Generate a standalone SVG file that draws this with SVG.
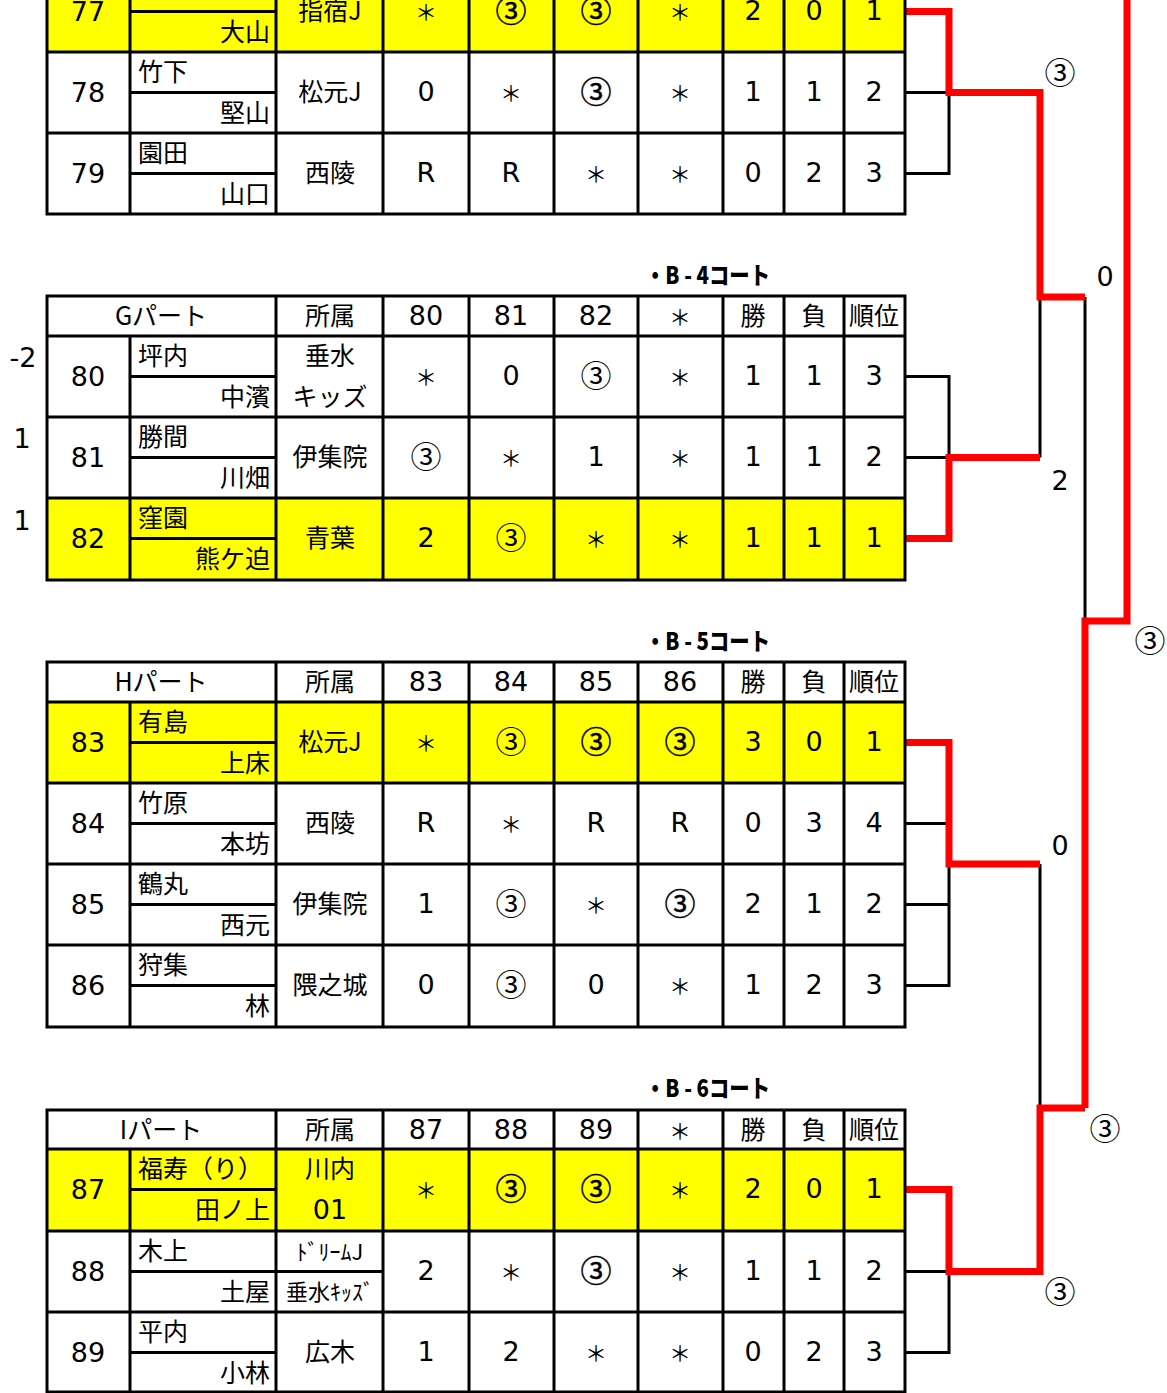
<svg xmlns="http://www.w3.org/2000/svg" width="1167" height="1393" viewBox="0 0 1167 1393">
<style>
text{font-family:"Noto Sans CJK JP","Noto Sans",sans-serif;font-size:25px;fill:#000}
.n{font-family:"DejaVu Sans","Noto Sans CJK JP",sans-serif;font-size:27px}
.m{text-anchor:middle}
.r{text-anchor:end}
.c{font-size:31px}
.a{font-size:22px}
.b{stroke:#000;stroke-width:0.5px}
.s{font-size:22px}
.yl{fill:#ffff00}
.g{stroke:#000;stroke-width:3;fill:none}
.br{stroke:#000;stroke-width:3;fill:none}
.rd{stroke:#ff0000;stroke-width:7;fill:none;stroke-linejoin:miter}
.ct{font-weight:900;font-size:24px}
</style>
<rect width="1167" height="1393" fill="#fff"/>

<g id="connectors">
<path class="br" d="M905,92.5H949M905,173.5H949V92.5"/>
<path class="br" d="M905,376.5H949V457.5M905,457.5H949M1040,297V457.5"/>
<path class="br" d="M1085,297V621"/>
<path class="br" d="M905,823.5H949M905,904.5H949M905,985.5H949V864M1040,864V1108"/>
<path class="br" d="M905,1271.5H949M905,1352.5H949V1271.5"/>
<path class="rd" d="M905,11.5H949V92.5H1040V297H1085"/>
<path class="rd" d="M905,538.5H949V457.5H1040"/>
<path class="rd" d="M1085,1108V621H1127V0"/>
<path class="rd" d="M905,742.5H949V864H1040"/>
<path class="rd" d="M905,1189.5H949V1271.5H1040V1108H1085"/>
<text class="m c" x="1060" y="84">③</text>
<text class="n m" x="1105" y="286">0</text>
<text class="n m" x="1060" y="490">2</text>
<text class="m c" x="1150" y="652">③</text>
<text class="n m" x="1060" y="855">0</text>
<text class="m c" x="1105" y="1140">③</text>
<text class="m c" x="1060" y="1303">③</text>
</g>

<g id="tableF">
<rect class="yl" x="47" y="-29" width="858" height="81"/>
<path class="g" d="M47,-5V214H905V-5M130,-5V214M276,-5V214M383,-5V214M469,-5V214M554,-5V214M638,-5V214M723,-5V214M784,-5V214M844,-5V214M47,52H905M47,133H905M130,11.5H276M130,92.5H276M130,173.5H276"/>
<text class="n m" x="88" y="21">77</text>
<text class="r" x="270" y="41">大山</text>
<text class="m" x="330" y="20">指宿J</text>
<text class="m a" x="426" y="20">＊</text>
<text class="m c b" x="511" y="22">③</text>
<text class="m c b" x="596" y="22">③</text>
<text class="m a" x="680" y="20">＊</text>
<text class="n m" x="753" y="20">2</text>
<text class="n m" x="814" y="20">0</text>
<text class="n m" x="874" y="20">1</text>

<text class="n m" x="88" y="102">78</text>
<text x="138" y="81">竹下</text>
<text class="r" x="270" y="122">堅山</text>
<text class="m" x="330" y="101">松元J</text>
<text class="n m" x="426" y="101">0</text>
<text class="m a" x="511" y="101">＊</text>
<text class="m c b" x="596" y="103">③</text>
<text class="m a" x="680" y="101">＊</text>
<text class="n m" x="753" y="101">1</text>
<text class="n m" x="814" y="101">1</text>
<text class="n m" x="874" y="101">2</text>

<text class="n m" x="88" y="183">79</text>
<text x="138" y="162">園田</text>
<text class="r" x="270" y="203">山口</text>
<text class="m" x="330" y="182">西陵</text>
<text class="n m" x="426" y="182">R</text>
<text class="n m" x="511" y="182">R</text>
<text class="m a" x="596" y="182">＊</text>
<text class="m a" x="680" y="182">＊</text>
<text class="n m" x="753" y="182">0</text>
<text class="n m" x="814" y="182">2</text>
<text class="n m" x="874" y="182">3</text>
</g>

<g id="courtB4">
<text class="ct" x="645" y="284" textLength="125" lengthAdjust="spacingAndGlyphs">・B - 4コート</text>
</g>

<g id="tableG">
<rect class="yl" x="47" y="498" width="858" height="82"/>
<path class="g" d="M47,296H905V580H47ZM47,336H905M47,417H905M47,498H905M130,336V580M276,296V580M383,296V580M469,296V580M554,296V580M638,296V580M723,296V580M784,296V580M844,296V580M130,376.5H276M130,457.5H276M130,538.5H276"/>
<text class="m" x="161" y="325">Gパート</text>
<text class="m" x="330" y="325">所属</text>
<text class="n m" x="426" y="325">80</text>
<text class="n m" x="511" y="325">81</text>
<text class="n m" x="596" y="325">82</text>
<text class="m a" x="680" y="325">＊</text>
<text class="m" x="753" y="325">勝</text>
<text class="m" x="814" y="325">負</text>
<text class="m" x="874" y="325">順位</text>

<text class="n m" x="23" y="367">-2</text>
<text class="n m" x="22" y="448">1</text>
<text class="n m" x="22" y="530">1</text>

<text class="n m" x="88" y="386">80</text>
<text x="138" y="365">坪内</text>
<text class="r" x="270" y="406">中濱</text>
<text class="m" x="330" y="365">垂水</text>
<text class="m" x="330" y="406">キッズ</text>
<text class="m a" x="426" y="385">＊</text>
<text class="n m" x="511" y="385">0</text>
<text class="m c" x="596" y="387">③</text>
<text class="m a" x="680" y="385">＊</text>
<text class="n m" x="753" y="385">1</text>
<text class="n m" x="814" y="385">1</text>
<text class="n m" x="874" y="385">3</text>

<text class="n m" x="88" y="467">81</text>
<text x="138" y="446">勝間</text>
<text class="r" x="270" y="487">川畑</text>
<text class="m" x="330" y="466">伊集院</text>
<text class="m c" x="426" y="468">③</text>
<text class="m a" x="511" y="466">＊</text>
<text class="n m" x="596" y="466">1</text>
<text class="m a" x="680" y="466">＊</text>
<text class="n m" x="753" y="466">1</text>
<text class="n m" x="814" y="466">1</text>
<text class="n m" x="874" y="466">2</text>

<text class="n m" x="88" y="548">82</text>
<text x="138" y="527">窪園</text>
<text class="r" x="270" y="568">熊ケ迫</text>
<text class="m" x="330" y="547">青葉</text>
<text class="n m" x="426" y="547">2</text>
<text class="m c" x="511" y="549">③</text>
<text class="m a" x="596" y="547">＊</text>
<text class="m a" x="680" y="547">＊</text>
<text class="n m" x="753" y="547">1</text>
<text class="n m" x="814" y="547">1</text>
<text class="n m" x="874" y="547">1</text>
</g>

<g id="courtB5">
<text class="ct" x="645" y="650" textLength="125" lengthAdjust="spacingAndGlyphs">・B - 5コート</text>
</g>

<g id="tableH">
<rect class="yl" x="47" y="702" width="858" height="81"/>
<path class="g" d="M47,662H905V1027H47ZM47,702H905M47,783H905M47,864H905M47,945H905M130,702V1027M276,662V1027M383,662V1027M469,662V1027M554,662V1027M638,662V1027M723,662V1027M784,662V1027M844,662V1027M130,742.5H276M130,823.5H276M130,904.5H276M130,985.5H276"/>
<text class="m" x="161" y="691">Hパート</text>
<text class="m" x="330" y="691">所属</text>
<text class="n m" x="426" y="691">83</text>
<text class="n m" x="511" y="691">84</text>
<text class="n m" x="596" y="691">85</text>
<text class="n m" x="680" y="691">86</text>
<text class="m" x="753" y="691">勝</text>
<text class="m" x="814" y="691">負</text>
<text class="m" x="874" y="691">順位</text>

<text class="n m" x="88" y="752">83</text>
<text x="138" y="731">有島</text>
<text class="r" x="270" y="772">上床</text>
<text class="m" x="330" y="751">松元J</text>
<text class="m a" x="426" y="751">＊</text>
<text class="m c" x="511" y="753">③</text>
<text class="m c b" x="596" y="753">③</text>
<text class="m c b" x="680" y="753">③</text>
<text class="n m" x="753" y="751">3</text>
<text class="n m" x="814" y="751">0</text>
<text class="n m" x="874" y="751">1</text>

<text class="n m" x="88" y="833">84</text>
<text x="138" y="812">竹原</text>
<text class="r" x="270" y="853">本坊</text>
<text class="m" x="330" y="832">西陵</text>
<text class="n m" x="426" y="832">R</text>
<text class="m a" x="511" y="832">＊</text>
<text class="n m" x="596" y="832">R</text>
<text class="n m" x="680" y="832">R</text>
<text class="n m" x="753" y="832">0</text>
<text class="n m" x="814" y="832">3</text>
<text class="n m" x="874" y="832">4</text>

<text class="n m" x="88" y="914">85</text>
<text x="138" y="893">鶴丸</text>
<text class="r" x="270" y="934">西元</text>
<text class="m" x="330" y="913">伊集院</text>
<text class="n m" x="426" y="913">1</text>
<text class="m c" x="511" y="915">③</text>
<text class="m a" x="596" y="913">＊</text>
<text class="m c b" x="680" y="915">③</text>
<text class="n m" x="753" y="913">2</text>
<text class="n m" x="814" y="913">1</text>
<text class="n m" x="874" y="913">2</text>

<text class="n m" x="88" y="995">86</text>
<text x="138" y="974">狩集</text>
<text class="r" x="270" y="1015">林</text>
<text class="m" x="330" y="994">隈之城</text>
<text class="n m" x="426" y="994">0</text>
<text class="m c" x="511" y="996">③</text>
<text class="n m" x="596" y="994">0</text>
<text class="m a" x="680" y="994">＊</text>
<text class="n m" x="753" y="994">1</text>
<text class="n m" x="814" y="994">2</text>
<text class="n m" x="874" y="994">3</text>
</g>

<g id="courtB6">
<text class="ct" x="645" y="1097" textLength="125" lengthAdjust="spacingAndGlyphs">・B - 6コート</text>
</g>

<g id="tableI">
<rect class="yl" x="47" y="1149" width="858" height="82"/>
<path class="g" d="M47,1110H905V1392H47ZM47,1149H905M47,1231H905M47,1312H905M130,1149V1392M276,1110V1392M383,1110V1392M469,1110V1392M554,1110V1392M638,1110V1392M723,1110V1392M784,1110V1392M844,1110V1392M130,1189.5H276M130,1271.5H383M130,1352.5H276"/>
<text class="m" x="161" y="1139">Iパート</text>
<text class="m" x="330" y="1139">所属</text>
<text class="n m" x="426" y="1139">87</text>
<text class="n m" x="511" y="1139">88</text>
<text class="n m" x="596" y="1139">89</text>
<text class="m a" x="680" y="1139">＊</text>
<text class="m" x="753" y="1139">勝</text>
<text class="m" x="814" y="1139">負</text>
<text class="m" x="874" y="1139">順位</text>

<text class="n m" x="88" y="1199">87</text>
<text x="138" y="1178">福寿（り）</text>
<text class="r" x="270" y="1219">田ノ上</text>
<text class="m" x="330" y="1178">川内</text>
<text class="n m" x="330" y="1219">01</text>
<text class="m a" x="426" y="1198">＊</text>
<text class="m c b" x="511" y="1200">③</text>
<text class="m c b" x="596" y="1200">③</text>
<text class="m a" x="680" y="1198">＊</text>
<text class="n m" x="753" y="1198">2</text>
<text class="n m" x="814" y="1198">0</text>
<text class="n m" x="874" y="1198">1</text>

<text class="n m" x="88" y="1281">88</text>
<text x="138" y="1260">木上</text>
<text class="r" x="270" y="1301">土屋</text>
<text class="m s" x="330" y="1260">ﾄﾞﾘｰﾑJ</text>
<text class="m s" x="330" y="1300">垂水ｷｯｽﾞ</text>
<text class="n m" x="426" y="1280">2</text>
<text class="m a" x="511" y="1280">＊</text>
<text class="m c b" x="596" y="1282">③</text>
<text class="m a" x="680" y="1280">＊</text>
<text class="n m" x="753" y="1280">1</text>
<text class="n m" x="814" y="1280">1</text>
<text class="n m" x="874" y="1280">2</text>

<text class="n m" x="88" y="1362">89</text>
<text x="138" y="1341">平内</text>
<text class="r" x="270" y="1382">小林</text>
<text class="m" x="330" y="1361">広木</text>
<text class="n m" x="426" y="1361">1</text>
<text class="n m" x="511" y="1361">2</text>
<text class="m a" x="596" y="1361">＊</text>
<text class="m a" x="680" y="1361">＊</text>
<text class="n m" x="753" y="1361">0</text>
<text class="n m" x="814" y="1361">2</text>
<text class="n m" x="874" y="1361">3</text>
</g>
</svg>
